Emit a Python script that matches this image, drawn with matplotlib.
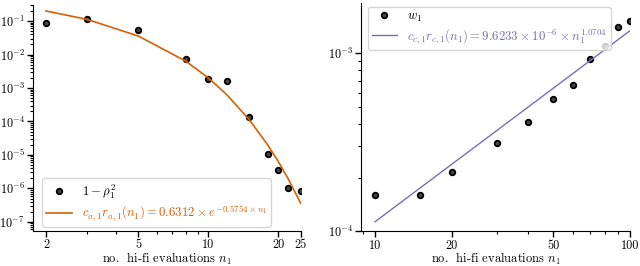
import matplotlib
matplotlib.use("Agg")
import matplotlib.pyplot as plt
from matplotlib.ticker import FixedLocator, FixedFormatter, NullFormatter, LogLocator

plt.rcParams["font.family"] = "serif"
plt.rcParams["font.serif"] = ["cmr10"]
plt.rcParams["mathtext.fontset"] = "cm"
plt.rcParams["axes.formatter.use_mathtext"] = True

# left panel: 1 - rho^2 vs n1
n_left = [2, 3, 5, 8, 10, 12, 15, 18, 20, 22, 25]
rho_vals = [0.089, 0.117, 0.055, 0.0074, 0.0019, 0.0016, 1.4e-4, 1.05e-5, 3.6e-6, 1.05e-6, 8.3e-7]
fit_left = [0.1997, 0.1123, 0.03554, 6.326e-3, 2.001e-3, 6.33e-4, 1.127e-4, 2.007e-5, 6.35e-6, 2.01e-6, 3.57e-7]

# right panel: w1 vs n1
n_right = [10, 15, 20, 30, 40, 50, 60, 70, 80, 90, 100]
w_vals = [1.59e-4, 1.60e-4, 2.16e-4, 3.15e-4, 4.09e-4, 5.55e-4, 6.62e-4, 9.26e-4, 1.09e-3, 1.40e-3, 1.52e-3]
fit_right = [1.132e-4, 1.747e-4, 2.377e-4, 3.668e-4, 4.991e-4, 6.337e-4, 7.703e-4, 9.085e-4, 1.048e-3, 1.189e-3, 1.331e-3]

orange = "#d95f02"
purple = "#7570b3"

fig = plt.figure(figsize=(6.4, 2.66), dpi=100)
ax1 = fig.add_axes([0.052, 0.132, 0.418, 0.849])
ax2 = fig.add_axes([0.5645, 0.13, 0.4195, 0.859])

mk = dict(marker="o", linestyle="none", markersize=4.0, markerfacecolor="#444444",
          markeredgecolor="black", markeredgewidth=1.3)
leg_kw = dict(fontsize=9.2, labelspacing=0.25, borderpad=0.3, handletextpad=0.8,
              borderaxespad=0.3)

ax1.plot(n_left, rho_vals, label=r"$1-\rho_1^2$", **mk)
ax1.plot(n_left, fit_left, color=orange, lw=1.2,
         label=r"$c_{a,1}r_{a,1}(n_1) = 0.6312\times e^{-0.5754\times n_1}$")
ax1.set_xscale("log")
ax1.set_yscale("log")
ax1.set_xlim(1.764, 25)
ax1.set_ylim(5.4e-8, 0.30)
ax1.xaxis.set_major_locator(FixedLocator([2, 5, 10, 20, 25]))
ax1.xaxis.set_major_formatter(FixedFormatter(["2", "5", "10", "20", "25"]))
ax1.xaxis.set_minor_locator(FixedLocator([3, 4, 6, 7, 8, 9]))
ax1.xaxis.set_minor_formatter(NullFormatter())
ax1.yaxis.set_major_locator(FixedLocator([1e-7, 1e-6, 1e-5, 1e-4, 1e-3, 1e-2, 1e-1]))
ax1.yaxis.set_minor_locator(LogLocator(base=10, subs=range(2, 10), numticks=20))
ax1.yaxis.set_minor_formatter(NullFormatter())
ax1.set_xlabel(r"no.  hi-fi evaluations $n_1$", fontsize=9.0, labelpad=-0.5)
leg1 = ax1.legend(loc="lower left", bbox_to_anchor=(0.02, 0.0), **leg_kw)
leg1.get_texts()[1].set_color(orange)

ax2.plot(n_right, w_vals, label=r"$w_1$", **mk)
ax2.plot(n_right, fit_right, color=purple, lw=1.0,
         label=r"$c_{c,1}r_{c,1}(n_1) = 9.6233\times 10^{-6}\times n_1^{1.0704}$")
ax2.set_xscale("log")
ax2.set_yscale("log")
ax2.set_xlim(8.84, 100)
ax2.set_ylim(1e-4, 1.91e-3)
ax2.xaxis.set_major_locator(FixedLocator([10, 20, 50, 100]))
ax2.xaxis.set_major_formatter(FixedFormatter(["10", "20", "50", "100"]))
ax2.xaxis.set_minor_locator(FixedLocator([9, 30, 40, 60, 70, 80, 90]))
ax2.xaxis.set_minor_formatter(NullFormatter())
ax2.yaxis.set_minor_formatter(NullFormatter())
ax2.set_xlabel(r"no.  hi-fi evaluations $n_1$", fontsize=9.0, labelpad=-0.8)
leg2 = ax2.legend(loc="upper left", bbox_to_anchor=(0.01, 1.0), **leg_kw)
leg2.get_texts()[1].set_color(purple)

for ax in (ax1, ax2):
    ax.spines["top"].set_visible(False)
    ax.spines["right"].set_visible(False)
    ax.tick_params(labelsize=8.8, width=1.0, length=4, pad=2)
    ax.tick_params(which="minor", width=0.8, length=2.5)

fig.savefig("out.png", dpi=100)
